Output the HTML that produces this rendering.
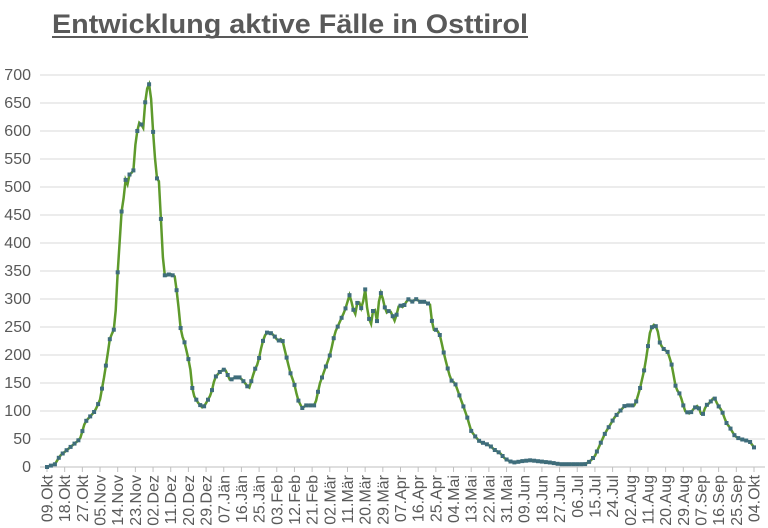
<!DOCTYPE html>
<html><head><meta charset="utf-8"><style>
body{margin:0;background:#fff;width:768px;height:528px;overflow:hidden}
svg{display:block}
</style></head><body>
<svg id="s" width="768" height="528" xmlns="http://www.w3.org/2000/svg" font-family="Liberation Sans, sans-serif">
<text x="52" y="33" font-size="27" font-weight="bold" fill="#595959" textLength="476" lengthAdjust="spacingAndGlyphs">Entwicklung aktive Fälle in Osttirol</text>
<line x1="52" y1="37" x2="528" y2="37" stroke="#595959" stroke-width="2"/>
<g id="g"></g>
</svg>
<script>
var g=document.getElementById('g'),h='';
var y0=467,k=28/50;
for(var v=0;v<=700;v+=50){var y=y0-v*k;
h+='<line x1="40" x2="765" y1="'+y+'" y2="'+y+'" stroke="#d9d9d9" stroke-width="1"/>';
h+='<text x="31" y="'+(y+5)+'" font-size="16" fill="#595959" text-anchor="end">'+v+'</text>';}
h+='<line x1="40" x2="765" y1="467" y2="467" stroke="#bfbfbf"/>';
var L="09.Okt 18.Okt 27.Okt 05.Nov 14.Nov 23.Nov 02.Dez 11.Dez 20.Dez 29.Dez 07.Jän 16.Jän 25.Jän 03.Feb 12.Feb 21.Feb 02.Mär 11.Mär 20.Mär 29.Mär 07.Apr 16.Apr 25.Apr 04.Mai 13.Mai 22.Mai 31.Mai 09.Jun 18.Jun 27.Jun 06.Jul 15.Jul 24.Jul 02.Aug 11.Aug 20.Aug 29.Aug 07.Sep 16.Sep 25.Sep 04.Okt".split(' ');
for(var i=0;i<L.length;i++){var x=47+i*17.675;
h+='<line x1="'+x+'" x2="'+x+'" y1="467" y2="472" stroke="#bfbfbf"/>';
h+='<text transform="translate('+(x+5.5)+',475) rotate(-90)" font-size="16" fill="#595959" text-anchor="end">'+L[i]+'</text>';}
var P=[47,0,55,5,60,20,70,35,80,50,85,80,95,100,100,120,105,170,110,230,115,250,117,330,119,380,121,450,123,470,126,520,128,500,130,530,133,520,136,590,140,620,143,600,146,670,149,685,151,660,154,570,157,515,159,510,161,440,163,370,165,340,170,345,175,340,178,295,181,240,185,220,190,180,193,130,198,115,203,105,208,120,211,130,215,160,220,170,225,175,230,155,235,160,240,160,245,150,249,140,255,175,258,185,262,220,266,240,270,240,274,235,278,225,282,230,286,200,290,170,294,150,298,120,302,105,306,110,315,110,320,150,325,175,330,200,335,240,340,260,345,280,350,310,352,290,355,270,358,300,362,280,365,320,368,270,371,255,374,290,377,260,380,315,383,300,386,275,390,280,395,260,399,290,403,285,408,300,412,295,416,300,420,295,425,295,430,290,433,245,437,245,440,235,443,210,447,180,451,155,455,150,459,130,463,110,467,90,471,65,475,55,480,45,485,42,490,38,495,30,500,25,505,15,510,10,515,8,520,10,530,12,540,10,550,8,560,5,575,5,585,5,590,10,595,20,600,40,605,60,610,75,615,90,620,100,625,110,630,110,635,110,640,140,645,180,650,240,653,255,657,250,660,220,664,210,668,205,672,180,676,140,680,130,685,100,690,95,694,105,698,110,702,90,706,110,710,115,714,125,718,110,722,100,726,80,730,70,735,55,740,50,745,48,750,45,754,35];
function f(x){for(var j=0;j<P.length-2;j+=2){if(x<=P[j+2]){var t=(x-P[j])/(P[j+2]-P[j]);return P[j+1]+t*(P[j+3]-P[j+1]);}}return P[P.length-1];}
var d='',m='';
for(var day=0;day<=360;day++){var x=47+day*1.964,y=y0-f(x)*k;d+=(day?'L':'M')+x.toFixed(1)+' '+y.toFixed(1);
if(day%2==0)m+='<rect x="'+(x-2).toFixed(1)+'" y="'+(y-2).toFixed(1)+'" width="4" height="4" fill="#3f6d7c"/>';}
h+='<path d="'+d+'" fill="none" stroke="#5e9a2c" stroke-width="2.5"/>'+m;
g.innerHTML=h;
</script>
</body></html>
